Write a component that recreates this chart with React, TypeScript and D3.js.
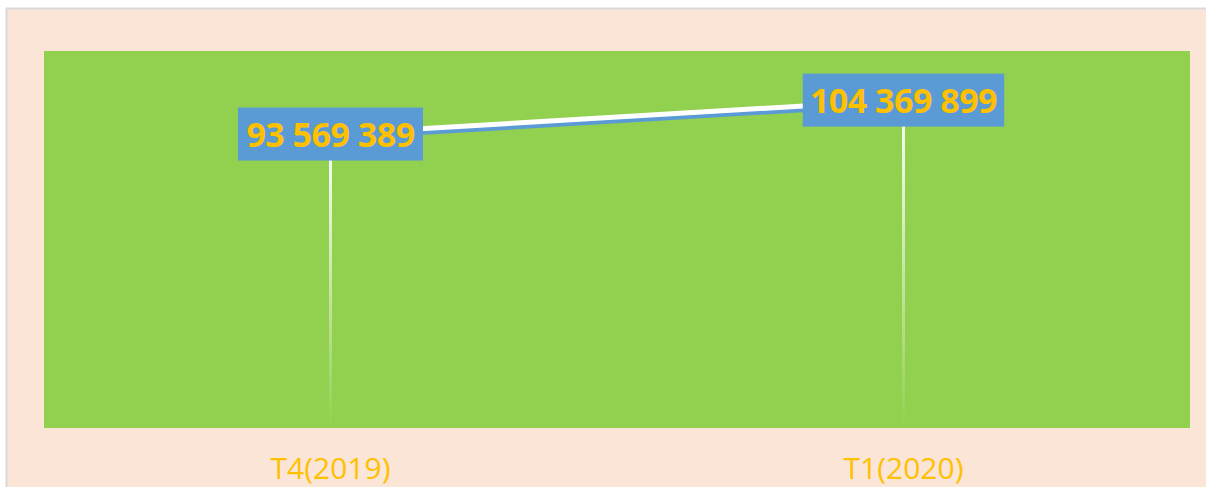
import React from "react";
import * as d3 from "d3";

const categories = ["T4(2019)", "T1(2020)"];
const values = [93569389, 104369899];
const yDomain = [0, 120000000];

const W = 1206;
const H = 487;
const plot = { left: 44, top: 51, right: 1190, bottom: 428 };

const fmt = (v: number) => d3.format(",")(v).replace(/,/g, " ");

export default function App() {
  const x = d3
    .scalePoint<string>()
    .domain(categories)
    .range([plot.left, plot.right])
    .padding(0.5);
  const y = d3.scaleLinear().domain(yDomain).range([plot.bottom, plot.top]);

  const pts = categories.map((c, i) => ({ c, v: values[i], x: x(c)!, y: y(values[i]) }));
  const line = d3
    .line<{ x: number; y: number }>()
    .x((d) => d.x)
    .y((d) => d.y);

  return (
    <svg
      width={W}
      height={H}
      style={{ position: "absolute", left: 0, top: 0, display: "block" }}
    >
      <defs>
        <linearGradient id="drop" x1="0" y1="0" x2="0" y2="1">
          <stop offset="0%" stopColor="#ffffff" stopOpacity={1} />
          <stop offset="100%" stopColor="#ffffff" stopOpacity={0} />
        </linearGradient>
      </defs>
      <rect x={0} y={0} width={W} height={H} fill="#ffffff" />
      <rect
        x={6.5}
        y={8.5}
        width={W + 20}
        height={H + 20}
        fill="#FAE5D7"
        stroke="#D9D9D9"
        strokeWidth={2}
      />
      <rect
        x={plot.left}
        y={plot.top}
        width={plot.right - plot.left}
        height={plot.bottom - plot.top}
        fill="#92D050"
      />
      {pts.map((p) => (
        <rect
          key={"drop" + p.c}
          x={p.x - 1.5}
          y={p.y}
          width={3}
          height={plot.bottom - p.y}
          fill="url(#drop)"
        />
      ))}
      <path
        d={line(pts.map((p) => ({ x: p.x, y: p.y + 4 })))!}
        fill="none"
        stroke="#5B9BD5"
        strokeWidth={4.5}
      />
      <path d={line(pts)!} fill="none" stroke="#ffffff" strokeWidth={5} />
      {pts.map((p) => {
        const txt = fmt(p.v);
        const w = txt.length * 16.5 + 20;
        return (
          <g key={"lbl" + p.c}>
            <rect x={p.x - w / 2} y={p.y - 26.5} width={w} height={53} fill="#5B9BD5" />
            <text
              x={p.x}
              y={p.y}
              dy="0.37em"
              textAnchor="middle"
              fontFamily="'Open Sans', sans-serif"
              fontWeight="bold"
              fontSize={34}
              letterSpacing={-0.5}
              fill="#FFC000"
            >
              {txt}
            </text>
          </g>
        );
      })}
      {pts.map((p) => (
        <text
          key={"cat" + p.c}
          x={p.x}
          y={479}
          textAnchor="middle"
          fontFamily="'Open Sans', sans-serif"
          fontSize={30}
          fill="#FFC000"
        >
          {p.c}
        </text>
      ))}
    </svg>
  );
}
